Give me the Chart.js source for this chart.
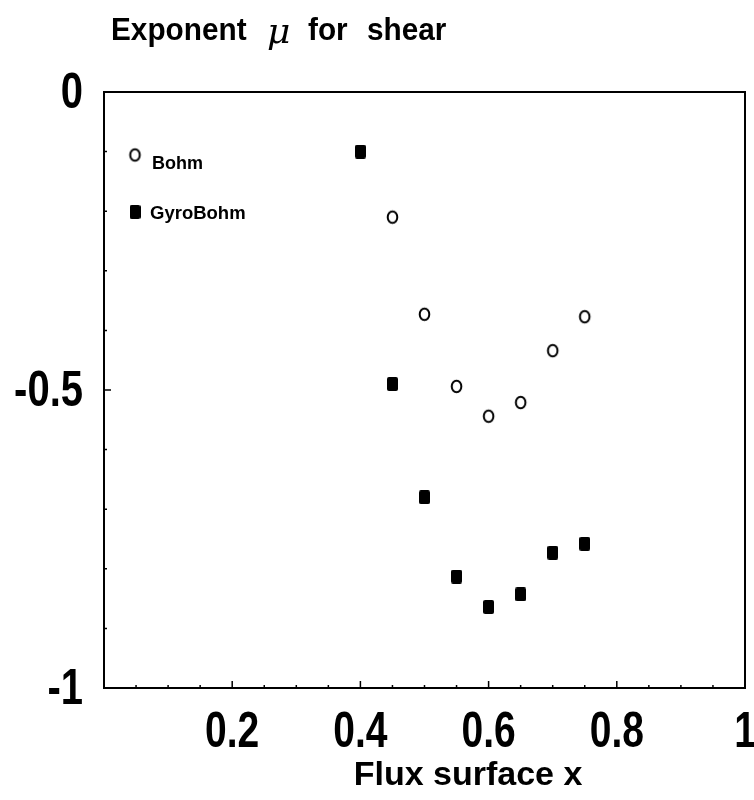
<!DOCTYPE html>
<html><head><meta charset="utf-8">
<script src="https://cdn.jsdelivr.net/npm/chart.js@4/dist/chart.umd.min.js"></script>
<style>html,body{margin:0;padding:0;background:#fff}#wrap{width:754px;height:800px}</style>
</head><body><div id="wrap"><canvas id="c" width="754" height="800"></canvas></div>
<script>
// ---- data ----
const bohmX = [0.45, 0.50, 0.55, 0.60, 0.65, 0.70, 0.75];
const bohmMu = [-0.210, -0.373, -0.494, -0.544, -0.521, -0.434, -0.377];
const gyroX = [0.40, 0.45, 0.50, 0.55, 0.60, 0.65, 0.70, 0.75];
const gyroMu = [-0.100, -0.490, -0.680, -0.813, -0.864, -0.843, -0.773, -0.758];
const xTicks = [0.2, 0.4, 0.6, 0.8, 1];
const yTicks = [0, -0.5, -1];
const seriesNames = ['Bohm', 'GyroBohm'];
const titleWords = ['Exponent', 'μ', 'for', 'shear'];
const xTitle = 'Flux surface x';

// ---- marker images ----
function makeCircle() {
  const c = document.createElement('canvas'); c.width = 15; c.height = 17;
  const g = c.getContext('2d');
  g.strokeStyle = '#000'; g.lineWidth = 2;
  g.beginPath(); g.ellipse(7.5, 8.5, 4.8, 5.8, 0, 0, Math.PI * 2); g.stroke();
  return c;
}
function makeSquare() {
  const c = document.createElement('canvas'); c.width = 11; c.height = 14;
  const g = c.getContext('2d');
  g.fillStyle = '#000';
  g.beginPath(); g.roundRect(0, 0, 11, 14, 2); g.fill();
  return c;
}
const circleImg = makeCircle();
const squareImg = makeSquare();

const SANS = '"Liberation Sans", Arial, sans-serif';

function condensedText(ctx, text, x, y, sx, align) {
  ctx.save();
  ctx.translate(x, y);
  ctx.scale(sx, 1);
  ctx.textAlign = align;
  ctx.fillText(text, 0, 0);
  ctx.restore();
}

const decor = {
  id: 'decor',
  afterDraw(chart) {
    const ctx = chart.ctx, a = chart.chartArea;
    const xs = chart.scales.x, ys = chart.scales.y;
    ctx.save();
    // frame
    ctx.strokeStyle = '#000'; ctx.lineWidth = 2;
    ctx.strokeRect(a.left, a.top, a.right - a.left, a.bottom - a.top);
    // inward ticks
    ctx.lineWidth = 1.5;
    ctx.beginPath();
    for (let i = 1; i < 20; i++) {
      const px = xs.getPixelForValue(i * 0.05);
      const len = (i % 4 === 0) ? 7 : 3;
      ctx.moveTo(px, a.bottom); ctx.lineTo(px, a.bottom - len);
    }
    for (let i = 1; i < 10; i++) {
      const py = ys.getPixelForValue(-i * 0.1);
      const len = (i === 5) ? 7 : 3;
      ctx.moveTo(a.left, py); ctx.lineTo(a.left + len, py);
    }
    ctx.stroke();
    ctx.fillStyle = '#000';
    ctx.textBaseline = 'alphabetic';
    // tick labels from the scales' ticks (condensed face)
    ctx.font = 'bold 50px ' + SANS;
    xs.ticks.forEach(t => {
      const lbl = t.label != null ? String(t.label) : String(t.value);
      condensedText(ctx, lbl, xs.getPixelForValue(t.value), a.bottom + 59, 0.78, 'center');
    });
    ys.ticks.forEach(t => {
      const lbl = t.label != null ? String(t.label) : String(t.value);
      condensedText(ctx, lbl, a.left - 21, ys.getPixelForValue(t.value) + 16, 0.8, 'right');
    });
    // legend
    ctx.font = 'bold 18px ' + SANS;
    ctx.drawImage(circleImg, 135 - circleImg.width / 2, 155 - circleImg.height / 2);
    ctx.fillText(seriesNames[0], 152, 169);
    ctx.drawImage(squareImg, 135 - squareImg.width / 2, 212 - squareImg.height / 2);
    ctx.font = 'bold 18.5px ' + SANS;
    ctx.fillText(seriesNames[1], 150, 219);
    // title
    ctx.font = 'bold 32px ' + SANS;
    condensedText(ctx, titleWords[0], 111, 40, 0.93, 'left');
    ctx.font = 'italic 36px "DejaVu Serif", "Liberation Serif", serif';
    condensedText(ctx, titleWords[1], 267, 43, 1.0, 'left');
    ctx.font = 'bold 32px ' + SANS;
    condensedText(ctx, titleWords[2], 308, 40, 0.93, 'left');
    condensedText(ctx, titleWords[3], 367, 40, 0.93, 'left');
    // x title
    ctx.font = 'bold 34px ' + SANS;
    ctx.textAlign = 'center';
    ctx.fillText(xTitle, 468, 785);
    ctx.restore();
  }
};

new Chart(document.getElementById('c'), {
  type: 'scatter',
  data: {
    datasets: [
      { label: seriesNames[0], data: bohmX.map((v, i) => ({ x: v, y: bohmMu[i] })),
        pointStyle: circleImg, pointRadius: 7, pointHoverRadius: 7 },
      { label: seriesNames[1], data: gyroX.map((v, i) => ({ x: v, y: gyroMu[i] })),
        pointStyle: squareImg, pointRadius: 7, pointHoverRadius: 7 }
    ]
  },
  options: {
    responsive: false, animation: false, devicePixelRatio: 1,
    layout: { padding: { top: 92, right: 9, left: 0, bottom: 0 } },
    plugins: { legend: { display: false }, tooltip: { enabled: false }, title: { display: false } },
    scales: {
      x: {
        type: 'linear', min: 0, max: 1,
        afterBuildTicks: s => { s.ticks = xTicks.map(v => ({ value: v })); },
        afterFit: s => { s.height = 112; s.paddingLeft = 0; s.paddingRight = 0; },
        grid: { display: false, drawTicks: false },
        border: { display: false },
        ticks: { display: false, callback: v => String(v) }
      },
      y: {
        type: 'linear', min: -1, max: 0,
        afterBuildTicks: s => { s.ticks = yTicks.map(v => ({ value: v })); },
        afterFit: s => { s.width = 104; s.paddingTop = 0; s.paddingBottom = 0; },
        grid: { display: false, drawTicks: false },
        border: { display: false },
        ticks: { display: false, callback: v => String(v) }
      }
    }
  },
  plugins: [decor]
});
</script>
</body></html>
